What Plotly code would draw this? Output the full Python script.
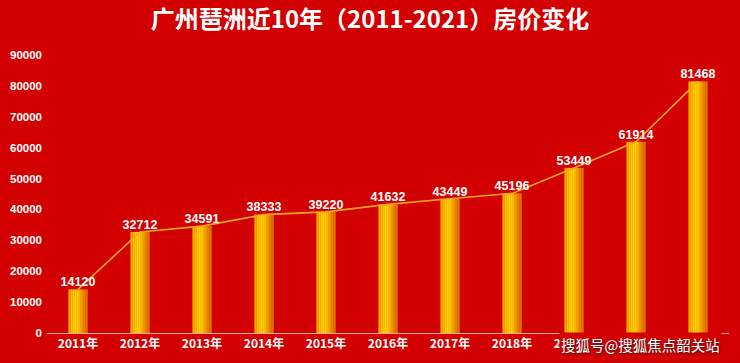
import plotly.graph_objects as go

years = ["2011年", "2012年", "2013年", "2014年", "2015年", "2016年",
         "2017年", "2018年", "2019年", "2020年", "2021年"]
prices = [14120, 32712, 34591, 38333, 39220, 41632, 43449, 45196, 53449, 61914, 81468]
y_ticks = [0, 10000, 20000, 30000, 40000, 50000, 60000, 70000, 80000, 90000]

title_text = "广州琶洲近10年（2011-2021）房价变化"
watermark = "搜狐号@搜狐焦点韶关站"

bg = "#d20000"
bar_width = 0.31
grad = ["#f2a900", "#f9bd00", "#fdca00", "#ffd200", "#fccb00", "#f7b800",
        "#f2a300", "#eb9000", "#e38000", "#db7400"]

fig = go.Figure()
n = len(grad)
for i, c in enumerate(grad):
    fig.add_trace(go.Bar(
        x=years, y=prices, width=bar_width / n + 0.002,
        offset=-bar_width / 2 + i * bar_width / n,
        marker=dict(color=c, line=dict(width=0)),
        showlegend=False, hoverinfo="skip"))

fig.add_trace(go.Scatter(
    x=years, y=prices, mode="lines+text",
    line=dict(color="#f8a422", width=1.6),
    text=["<b>" + str(v) + "</b>" for v in prices], textposition="top center",
    textfont=dict(color="white", size=12.5, family="Liberation Sans"),
    showlegend=False, hoverinfo="skip"))

fig.update_layout(
    barmode="overlay",
    width=740, height=363,
    paper_bgcolor=bg, plot_bgcolor=bg,
    margin=dict(l=47, r=11, t=55, b=30, autoexpand=False),
    title=dict(text="<b>" + title_text + "</b>", x=0.5, xanchor="center",
               y=0.947, yanchor="middle",
               font=dict(family="Noto Sans CJK SC", size=24, color="white")),
    xaxis=dict(type="category", showgrid=False, showline=True, automargin=False,
               linecolor="rgba(255,190,190,0.9)", linewidth=1, ticks="",
               tickfont=dict(color="white", size=12, family="Noto Sans CJK SC"),
               tickvals=years, ticktext=["<b>" + y + "</b>" for y in years],
               range=[-0.5, 10.5]),
    yaxis=dict(range=[0, 90000], tickvals=y_ticks, automargin=False,
               ticktext=["<b>" + str(v) + "</b>" for v in y_ticks],
               showgrid=False, zeroline=False, showline=False, ticks="",
               ticklabelstandoff=4,
               tickfont=dict(color="white", size=11.5, family="Liberation Sans")),
    annotations=[dict(text=watermark, xref="paper", yref="paper",
                      x=0.9897, y=-0.043, xanchor="right", yanchor="middle",
                      showarrow=False, bgcolor=bg, borderpad=1,
                      font=dict(color="white", size=14.5, family="Noto Sans CJK SC",
                                shadow="1px 1px 2px #222"))],
)

fig.write_html("out.html", config={"displayModeBar": False},
               post_script="document.body.style.margin='0';document.body.style.overflow='hidden';")
